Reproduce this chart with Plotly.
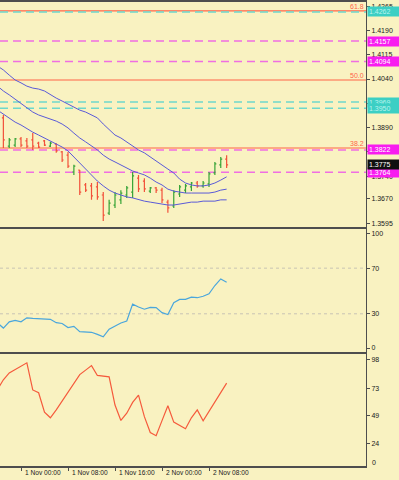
import plotly.graph_objects as go

# ---------------- data ----------------
bar_hours = list(range(-3, 36))  # hours relative to 1 Nov 00:00
opens  = [1.3920,1.3833,1.3836,1.3855,1.3849,1.3852,1.3842,1.3849,1.3833,1.3839,
          1.3815,1.3805,1.3753,1.3759,1.3713,1.3710,1.3707,1.3682,1.3626,1.3651,
          1.3667,1.3682,1.3691,1.3734,1.3725,1.3694,1.3704,1.3697,1.3660,1.3648,
          1.3685,1.3697,1.3707,1.3719,1.3710,1.3716,1.3750,1.3775,1.3793]
highs  = [1.3929,1.3858,1.3858,1.3861,1.3858,1.3873,1.3846,1.3852,1.3846,1.3842,
          1.3818,1.3815,1.3775,1.3759,1.3719,1.3719,1.3722,1.3691,1.3667,1.3691,
          1.3697,1.3710,1.3753,1.3744,1.3734,1.3707,1.3707,1.3704,1.3667,1.3697,
          1.3713,1.3716,1.3722,1.3725,1.3725,1.3753,1.3784,1.3799,1.3805]
lows   = [1.3827,1.3827,1.3830,1.3830,1.3827,1.3821,1.3827,1.3833,1.3830,1.3812,
          1.3784,1.3765,1.3744,1.3682,1.3691,1.3667,1.3667,1.3602,1.3620,1.3642,
          1.3654,1.3673,1.3673,1.3691,1.3691,1.3688,1.3688,1.3657,1.3627,1.3642,
          1.3676,1.3688,1.3694,1.3704,1.3704,1.3707,1.3744,1.3765,1.3765]
closes = [1.3852,1.3852,1.3855,1.3836,1.3833,1.3833,1.3830,1.3836,1.3842,1.3818,
          1.3790,1.3771,1.3771,1.3691,1.3697,1.3679,1.3676,1.3620,1.3657,1.3682,
          1.3688,1.3704,1.3741,1.3701,1.3701,1.3704,1.3697,1.3667,1.3642,1.3691,
          1.3707,1.3710,1.3719,1.3710,1.3719,1.3747,1.3778,1.3793,1.3775]

line_hours = list(range(-4, 36))
band_upper = [1.4080,1.4068,1.4052,1.4037,1.4028,1.4018,1.4012,1.4009,1.4003,1.3991,
              1.3981,1.3972,1.3963,1.3954,1.3944,1.3938,1.3929,1.3920,1.3901,1.3883,
              1.3867,1.3858,1.3846,1.3833,1.3821,1.3812,1.3799,1.3787,1.3775,1.3762,
              1.3750,1.3731,1.3719,1.3713,1.3710,1.3710,1.3713,1.3719,1.3728,1.3738]
band_mid   = [1.4018,1.4003,1.3991,1.3978,1.3963,1.3950,1.3938,1.3929,1.3923,1.3917,
              1.3910,1.3901,1.3889,1.3873,1.3858,1.3846,1.3833,1.3821,1.3805,1.3793,
              1.3784,1.3775,1.3765,1.3756,1.3750,1.3744,1.3734,1.3722,1.3713,1.3700,
              1.3694,1.3691,1.3688,1.3688,1.3688,1.3688,1.3688,1.3691,1.3697,1.3700]
band_lower = [1.3944,1.3932,1.3920,1.3907,1.3898,1.3886,1.3876,1.3867,1.3858,1.3849,
              1.3839,1.3830,1.3818,1.3799,1.3781,1.3762,1.3744,1.3725,1.3710,1.3697,
              1.3688,1.3682,1.3676,1.3673,1.3667,1.3663,1.3660,1.3657,1.3654,1.3651,
              1.3651,1.3654,1.3657,1.3660,1.3660,1.3663,1.3663,1.3663,1.3667,1.3667]

osc_blue = [22,17.5,22.9,24.3,23,26.5,26,25.8,25.5,25.2,
            22.2,21.5,17.9,19.0,14.3,14.0,13.8,12.0,9.8,16.5,
            19.5,22,23.7,38.5,35.9,34.0,35.6,35.4,31,29.4,
            39.7,42.6,42.6,44.6,44.1,45.4,47.6,54.8,60.6,57.7]
osc_red = [72,80.5,86.5,89.5,92.5,95.4,71.5,69,52,47,
           54,61.7,69.4,77.2,85,89,93,84.3,83.7,83,
           58.2,44.6,51,60.5,67,48,34,31.2,44.5,57.6,
           43.2,40.5,37.3,47,53.9,44.3,52.4,60.8,69.1,77.5]

fib_levels = [1.4250, 1.4037, 1.3827]
fib_labels = ["61.8", "50.0", "38.2"]
magenta_levels = [1.4157, 1.4094, 1.3821, 1.3752]
magenta_labels = ["1.4157", "1.4094", "1.3822", "1.3764"]
cyan_levels = [1.4247, 1.3969, 1.3950]
cyan_labels = ["1.4262", "1.3969", "1.3950"]
current_price = 1.3775
current_label = "1.3775"

price_ticks = [1.4265, 1.4190, 1.4115, 1.4040, 1.3965, 1.3890, 1.3815, 1.3740, 1.3670, 1.3595]
price_ticktext = ["1.4265", "1.4190", "1.4115", "1.4040", "1.3965", "1.3890", "1.3815", "1.3740", "1.3670", "1.3595"]
osc1_ticks = [100, 70, 30, 0]
osc1_levels = [70, 30]
osc2_ticks = [98, 73, 49, 24]
time_ticks = [-8, 0, 8, 16, 24, 32]
time_labels = ["31 Oct 16:00", "1 Nov 00:00", "1 Nov 08:00", "1 Nov 16:00", "2 Nov 00:00", "2 Nov 08:00"]

# ---------------- style ----------------
BG = "#f9f2c1"
FRAME = "#4e4e4e"
FONT = "Liberation Sans"
FS = 7
XR = [-3.574, 58.72]

fig = go.Figure()

fig.add_trace(go.Ohlc(x=bar_hours, open=opens, high=highs, low=lows, close=closes,
                      increasing=dict(line=dict(color="#36a336", width=1.2)),
                      decreasing=dict(line=dict(color="#f2503a", width=1.2)),
                      tickwidth=0.25, xaxis="x", yaxis="y", showlegend=False,
                      hoverinfo="skip"))
for band in (band_upper, band_mid, band_lower):
    fig.add_trace(go.Scatter(x=line_hours, y=band, mode="lines",
                             line=dict(color="#5a5ad8", width=1),
                             xaxis="x", yaxis="y", showlegend=False, hoverinfo="skip"))
fig.add_trace(go.Scatter(x=line_hours, y=osc_blue, mode="lines",
                         line=dict(color="#4aa6dc", width=1.2),
                         xaxis="x2", yaxis="y2", showlegend=False, hoverinfo="skip"))
fig.add_trace(go.Scatter(x=line_hours, y=osc_red, mode="lines",
                         line=dict(color="#f55a3c", width=1.2),
                         xaxis="x3", yaxis="y3", showlegend=False, hoverinfo="skip"))

shapes = []
for lv in fib_levels:
    shapes.append(dict(type="line", xref="x domain", x0=0, x1=1, yref="y", y0=lv, y1=lv,
                       line=dict(color="#ff6448", width=1.2), layer="below"))
for lv in magenta_levels:
    shapes.append(dict(type="line", xref="x domain", x0=0, x1=1, yref="y", y0=lv, y1=lv,
                       line=dict(color="#f06ee2", width=1.5, dash="8px,5px"), layer="below"))
for lv in cyan_levels:
    shapes.append(dict(type="line", xref="x domain", x0=0, x1=1, yref="y", y0=lv, y1=lv,
                       line=dict(color="#6ed8cc", width=1.5, dash="8px,5px"), layer="below"))
for lv in osc1_levels:
    shapes.append(dict(type="line", xref="x2 domain", x0=0, x1=1, yref="y2", y0=lv, y1=lv,
                       line=dict(color="#c8c4b4", width=1, dash="3px,3px"), layer="below"))

ann = []
for lv, t in zip(fib_levels, fib_labels):
    ann.append(dict(xref="paper", x=0.997, xanchor="right", yref="y", y=lv, yanchor="bottom",
                    text=t, showarrow=False, font=dict(family=FONT, size=FS, color="#ff6448"),
                    borderpad=0))
for lv, t in zip(cyan_levels, cyan_labels):
    ann.append(dict(xref="paper", x=1, xshift=1, xanchor="left", yref="y", y=lv, yanchor="middle",
                    text=t, showarrow=False, bgcolor="#3ccfc4", width=34, align="left",
                    font=dict(family=FONT, size=FS, color="#b8f4ee"), borderpad=1))
for lv, t in zip(magenta_levels, magenta_labels):
    ann.append(dict(xref="paper", x=1, xshift=1, xanchor="left", yref="y", y=lv, yanchor="middle",
                    text=t, showarrow=False, bgcolor="#f81cf0", width=34, align="left",
                    font=dict(family=FONT, size=FS, color="#ffffff"), borderpad=1))
ann.append(dict(xref="paper", x=1, xshift=1, xanchor="left", yref="y", y=current_price, yanchor="middle",
                text=current_label, showarrow=False, bgcolor="#101010", width=34, align="left",
                font=dict(family=FONT, size=FS, color="#ffffff"), borderpad=1))
for t, lab in zip(time_ticks, time_labels):
    ann.append(dict(xref="x3", x=t, xanchor="left", xshift=2, yref="paper", y=-0.013, yanchor="middle",
                    text=lab, showarrow=False, font=dict(family=FONT, size=6.6, color="#202020")))
ann.append(dict(xref="paper", x=1, xshift=4, xanchor="left", yref="y3 domain", y=0.03, yanchor="middle",
                text="0", showarrow=False, font=dict(family=FONT, size=FS, color="#202020")))

xcommon = dict(range=XR, showgrid=False, zeroline=False, showline=True, mirror=True,
               linecolor=FRAME, linewidth=2, fixedrange=True)
ycommon = dict(side="right", showgrid=False, zeroline=False, showline=True, linecolor=FRAME,
               linewidth=1, ticks="outside", ticklen=3, tickcolor=FRAME,
               tickfont=dict(family=FONT, size=FS, color="#202020"))

fig.update_layout(
    width=399, height=480,
    margin=dict(l=0, r=33, t=2, b=14),
    paper_bgcolor=BG, plot_bgcolor=BG,
    showlegend=False,
    xaxis=dict(domain=[0, 1], anchor="y", showticklabels=False, ticks="",
               rangeslider=dict(visible=False), **xcommon),
    xaxis2=dict(domain=[0, 1], anchor="y2", showticklabels=False, ticks="", matches="x", **xcommon),
    xaxis3=dict(domain=[0, 1], anchor="y3", showticklabels=False, ticks="outside", ticklen=3,
                tickcolor=FRAME, tickvals=time_ticks[1:], matches="x", **xcommon),
    yaxis=dict(domain=[0.5151, 1.0], anchor="x", range=[1.35832, 1.42777],
               tickvals=price_ticks, ticktext=price_ticktext, **ycommon),
    yaxis2=dict(domain=[0.2457, 0.5108], anchor="x2", range=[-3.48, 104.35],
                tickvals=osc1_ticks, **ycommon),
    yaxis3=dict(domain=[0.0, 0.2414], anchor="x3", range=[4.5, 103.2],
                tickvals=osc2_ticks, **ycommon),
    shapes=shapes, annotations=ann,
)

fig.write_html("out.html", config={"displayModeBar": False},
               post_script="document.body.style.margin='0';document.body.style.background='%s';" % BG)
